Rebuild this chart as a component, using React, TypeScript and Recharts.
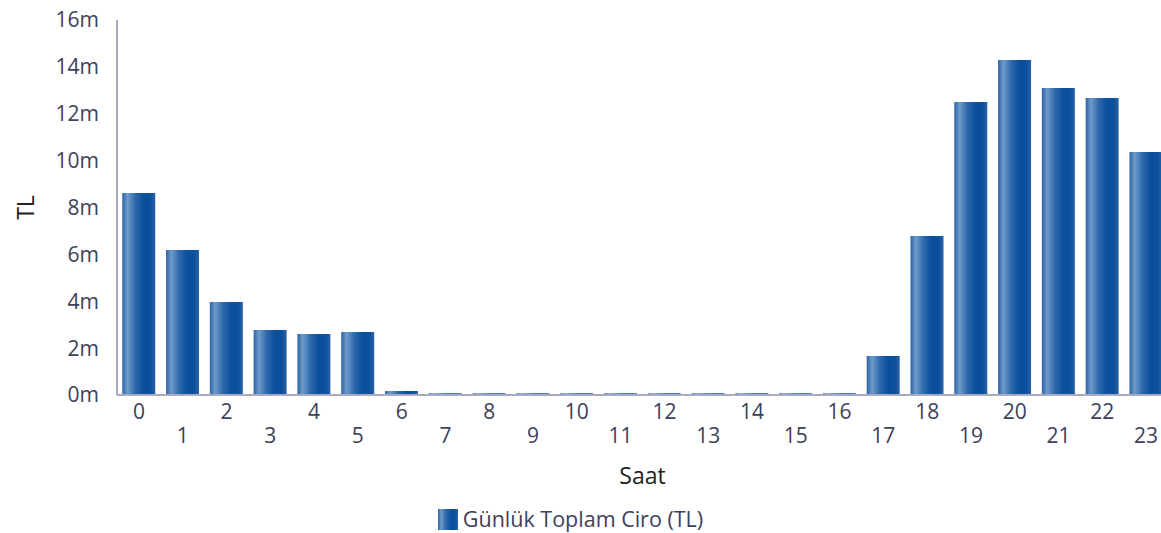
import React from 'react';
import { BarChart, Bar, XAxis, YAxis, Legend } from 'recharts';

const hours = ['0', '1', '2', '3', '4', '5', '6', '7', '8', '9', '10', '11', '12', '13', '14', '15', '16', '17', '18', '19', '20', '21', '22', '23'];
const ciro = [8.62, 6.19, 3.97, 2.77, 2.6, 2.69, 0.17, 0.08, 0.08, 0.08, 0.08, 0.08, 0.08, 0.08, 0.08, 0.08, 0.08, 1.66, 6.78, 12.5, 14.29, 13.1, 12.67, 10.37];
const yTicks = [0, 2, 4, 6, 8, 10, 12, 14, 16];

const data = hours.map((h, i) => ({ saat: h, ciro: ciro[i] * 1e6 }));

const FONT = '"Open Sans", sans-serif';
const TICK_COLOR = '#40405a';
const AXIS_COLOR = '#a9a9c0';

const HourTick = (props: any) => {
  const { x, y, payload, index } = props;
  const dy = index % 2 === 0 ? 24 : 48;
  return (
    <text x={x} y={y + dy} textAnchor="middle" fill={TICK_COLOR} fontSize={21} fontFamily={FONT}>
      {payload.value}
    </text>
  );
};

const LegendContent = () => (
  <div style={{ display: 'flex', justifyContent: 'center', alignItems: 'center', fontFamily: FONT, fontSize: 21.5, lineHeight: '24px', color: TICK_COLOR, paddingTop: 14, paddingRight: 27 }}>
    <svg width={20} height={21} style={{ marginRight: 5 }}>
      <rect width={20} height={21} fill="url(#barGrad)" />
    </svg>
    <span>Günlük Toplam Ciro (TL)</span>
  </div>
);

export default function App() {
  return (
    <div style={{ position: 'absolute', left: 0, top: 0, width: 1161, height: 533, overflow: 'hidden', background: '#fff' }}>
      <svg width={0} height={0} style={{ position: 'absolute' }}>
        <defs>
          <linearGradient id="barGrad" x1="0" y1="0" x2="1" y2="0">
            <stop offset="0%" stopColor="#2c64a7" />
            <stop offset="16%" stopColor="#6e9bc9" />
            <stop offset="40%" stopColor="#2d68ac" />
            <stop offset="65%" stopColor="#0a4f9b" />
            <stop offset="85%" stopColor="#0c509b" />
            <stop offset="100%" stopColor="#2a62a6" />
          </linearGradient>
        </defs>
      </svg>
      <BarChart width={1168} height={533} data={data} margin={{ top: 20, right: 0, left: 0, bottom: 0 }} barCategoryGap="12%">
        <XAxis
          dataKey="saat"
          interval={0}
          tickLine={false}
          tickSize={0}
          tickMargin={0}
          height={98}
          stroke={AXIS_COLOR}
          strokeWidth={2}
          tick={<HourTick />}
          label={{ value: 'Saat', position: 'insideBottom', offset: 9, fill: '#222', fontSize: 23, fontFamily: FONT }}
        />
        <YAxis
          width={117}
          domain={[0, 16e6]}
          ticks={yTicks.map((t) => t * 1e6)}
          tickFormatter={(v: number) => `${v / 1e6}m`}
          tickLine={false}
          tickMargin={12}
          stroke={AXIS_COLOR}
          strokeWidth={2}
          tick={{ fill: TICK_COLOR, fontSize: 21, fontFamily: FONT }}
          label={{
            content: ({ viewBox }: any) => (
              <text
                x={viewBox.x + 25}
                y={viewBox.y + viewBox.height / 2}
                transform={`rotate(-90 ${viewBox.x + 25} ${viewBox.y + viewBox.height / 2})`}
                textAnchor="middle"
                dominantBaseline="central"
                fill="#222"
                fontSize={23}
                fontFamily={FONT}
              >
                TL
              </text>
            ),
          }}
        />
        <Legend verticalAlign="bottom" height={40} content={<LegendContent />} />
        <Bar dataKey="ciro" name="Günlük Toplam Ciro (TL)" fill="url(#barGrad)" isAnimationActive={false} />
      </BarChart>
    </div>
  );
}
